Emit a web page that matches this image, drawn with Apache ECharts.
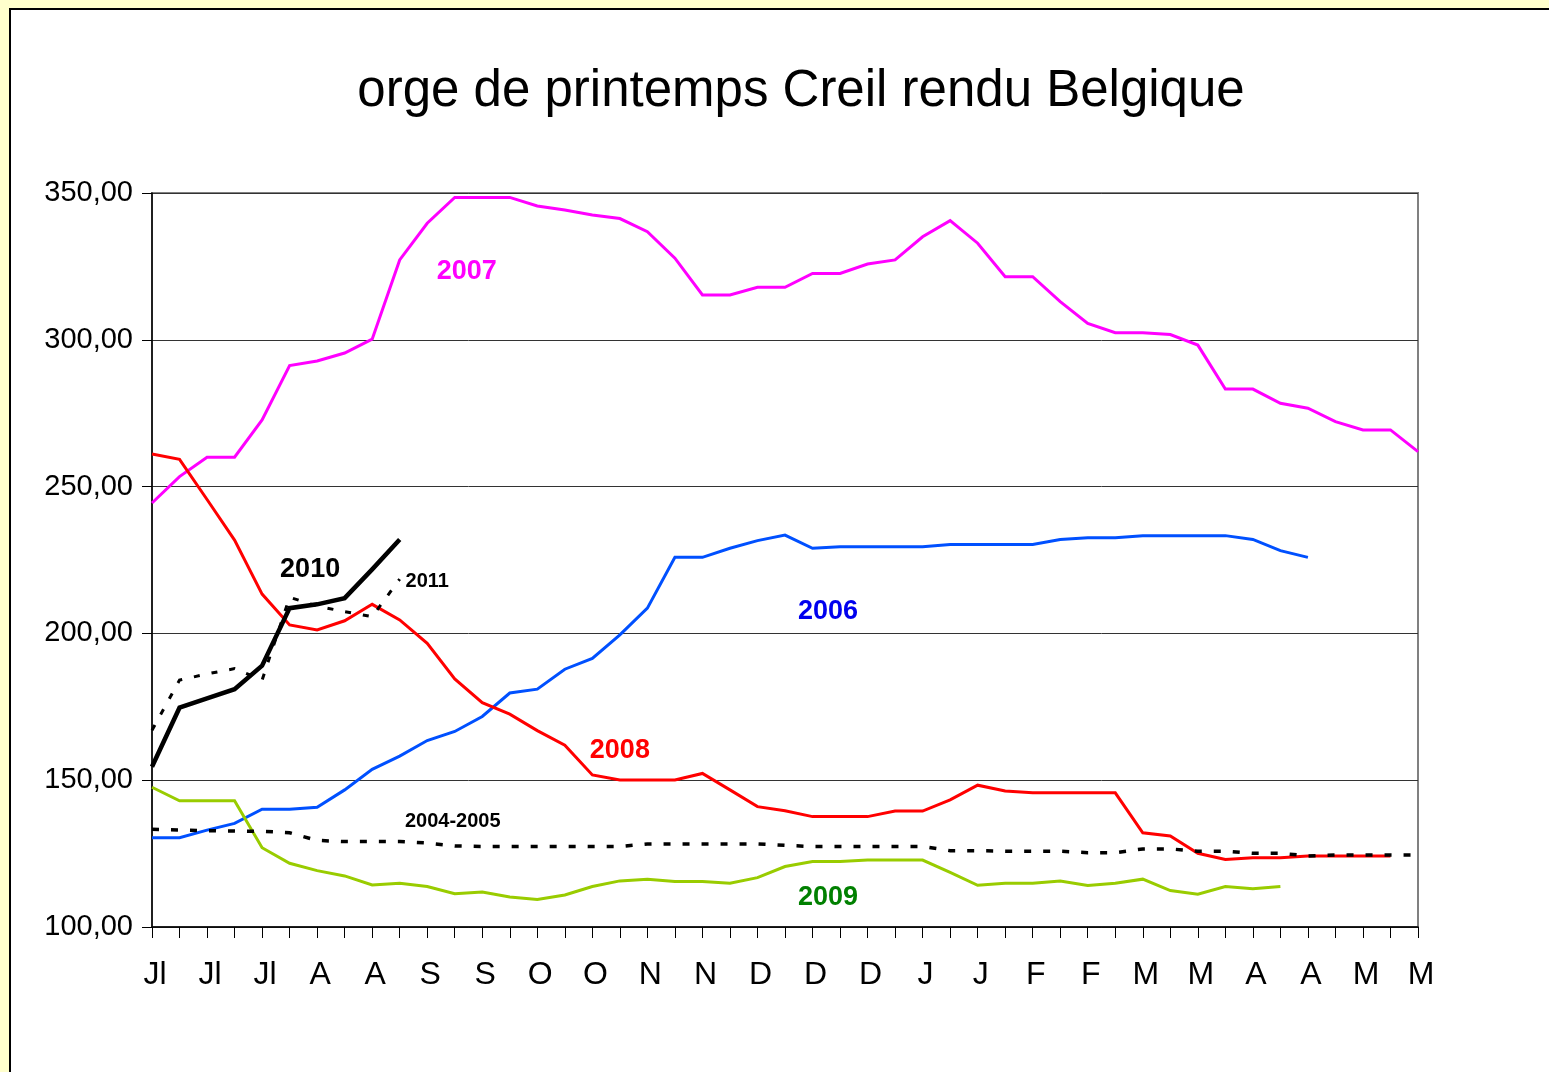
<!DOCTYPE html>
<html>
<head>
<meta charset="utf-8">
<script src="https://cdn.jsdelivr.net/npm/echarts@6/dist/echarts.min.js"></script>
<style>
html,body{margin:0;padding:0;background:#FFFFCC;}
#chart{width:1549px;height:1072px;}
</style>
</head>
<body>
<div id="chart"></div>
<script>
// Tick labels (every second week is labelled)
const tickLabels = ['Jl','Jl','Jl','A','A','S','S','O','O','N','N','D','D','D','J','J','F','F','M','M','A','A','M','M'];
const nPoints = 47;
const categories = [];
for (let i = 0; i < nPoints; i++) categories.push(i % 2 === 0 ? tickLabels[i / 2] : '');

const yTicks = { min: 100, max: 350, step: 50 };

const s2006 = [130.4,130.4,133,135.3,140.1,140.1,140.8,146.7,153.7,158.2,163.5,166.6,171.7,179.7,181,187.8,191.5,199.5,208.6,225.9,225.9,229,231.6,233.5,229,229.5,229.5,229.5,229.5,230.3,230.3,230.3,230.3,232,232.6,232.6,233.3,233.3,233.3,233.3,232,228.2,225.9];
const s2007 = [244.4,253.4,260,260,272.7,291.2,292.8,295.5,300.2,327.2,339.7,348.5,348.5,348.5,345.6,344.2,342.5,341.3,336.8,327.8,315.3,315.3,317.9,317.9,322.6,322.6,325.8,327.2,335.1,340.6,332.9,321.5,321.5,313,305.6,302.4,302.4,301.8,298.2,283.2,283.2,278.4,276.7,272.1,269.3,269.3,261.9];
const s2008 = [261.1,259.3,245.6,231.8,213.4,202.9,201.2,204.3,209.9,204.6,196.6,184.5,176.4,172.5,166.9,161.9,151.8,150.1,150.1,150.1,152.3,146.7,141,139.6,137.6,137.6,137.6,139.5,139.5,143.3,148.3,146.3,145.7,145.7,145.7,145.7,132.1,131,125.1,123,123.6,123.6,124.2,124.2,124.2,124.2];
const s2009 = [147.6,143,143,143,127,121.7,119.2,117.4,114.3,114.9,113.8,111.3,111.9,110.2,109.4,110.9,113.8,115.7,116.3,115.5,115.5,114.9,116.8,120.6,122.3,122.3,122.8,122.8,122.8,118.6,114.2,114.9,114.9,115.7,114.1,114.9,116.3,112.4,111.2,113.8,113,113.8];
const s0405 = [133.3,133,132.8,132.7,132.6,132.1,129.5,129.1,129.1,129.1,128.6,127.6,127.4,127.4,127.4,127.4,127.4,127.4,128.3,128.3,128.3,128.3,128.3,127.8,127.4,127.4,127.4,127.4,127.4,126,126,125.8,125.8,125.8,125.3,125.3,126.6,126.6,125.8,125.8,125.1,125.1,124.2,124.5,124.5,124.5,124.5];
const s2010 = [154.6,174.7,177.9,181,189,208.6,209.9,212,221.8,232];
const s2011 = [167,184.1,186.2,188,184.1,212.3,209.3,207.4,205.7,218.5];

// Series annotation labels: [text, category index, value, x-offset px, font size, color]
const seriesLabels = {
  '2006': ['2006', 25, 207.6, -12, 27, '#0000EE'],
  '2007': ['2007', 11, 323.1, 12, 27, '#FF00FF'],
  '2008': ['2008', 17, 160.0, 0, 27, '#FF0000'],
  '2009': ['2009', 25, 110.2, -12, 27, '#008000'],
  '2004-2005': ['2004-2005', 11, 135.8, -2, 20, '#000000'],
  '2010': ['2010', 6, 221.9, -7, 27, '#000000'],
  '2011': ['2011', 10, 217.8, 0, 20, '#000000']
};

function mp(key) {
  const l = seriesLabels[key];
  return {
    silent: true,
    symbol: 'circle',
    symbolSize: 1,
    itemStyle: { color: 'rgba(0,0,0,0)' },
    label: {
      show: true, position: 'inside', formatter: l[0], offset: [l[3], 0],
      fontFamily: 'Liberation Sans, Arial, sans-serif', fontWeight: 'bold',
      fontSize: l[4], color: l[5]
    },
    data: [{ coord: [l[1], l[2]] }]
  };
}

function line(name, data, color, width, dash, z) {
  return {
    name: name, type: 'line', data: data, symbol: 'none', smooth: false,
    animation: false, z: z,
    lineStyle: { color: color, width: width, type: dash || 'solid', cap: 'butt', join: 'miter' },
    markPoint: mp(name)
  };
}

const chart = echarts.init(document.getElementById('chart'), null, { renderer: 'canvas' });
chart.setOption({
  backgroundColor: '#FFFFCC',
  animation: false,
  graphic: [{
    type: 'rect', z: -100, silent: true,
    shape: { x: 10, y: 9, width: 1600, height: 1100 },
    style: { fill: '#FFFFFF', stroke: '#000000', lineWidth: 2 }
  }],
  title: {
    text: 'orge de printemps Creil rendu Belgique',
    left: 796, top: 61, textAlign: 'center',
    textStyle: { fontFamily: 'Liberation Sans, Arial, sans-serif', fontWeight: 'normal', fontSize: 51, color: '#000' }
  },
  grid: { left: 152, right: 131, top: 193, bottom: 145, show: true, borderColor: '#808080', borderWidth: 2, backgroundColor: 'rgba(0,0,0,0)' },
  xAxis: {
    type: 'category', data: categories, boundaryGap: false,
    axisLine: { lineStyle: { color: '#000', width: 1.5 } },
    axisTick: { show: true, interval: 0, length: 11, lineStyle: { color: '#000', width: 1 } },
    axisLabel: { interval: 0, margin: 32, fontSize: 32, color: '#000', padding: [0, 0, 0, 6], fontFamily: 'Liberation Sans, Arial, sans-serif' },
    splitLine: { show: false }
  },
  yAxis: {
    type: 'value', min: yTicks.min, max: yTicks.max, interval: yTicks.step,
    axisLine: { show: true, lineStyle: { color: '#000', width: 1.5 } },
    axisTick: { show: true, length: 10, lineStyle: { color: '#000', width: 1 } },
    axisLabel: {
      margin: 19, fontSize: 29, color: '#000', fontFamily: 'Liberation Sans, Arial, sans-serif',
      formatter: v => v.toFixed(2).replace('.', ',')
    },
    splitLine: { show: true, lineStyle: { color: '#333', width: 1 } }
  },
  series: [
    line('2006', s2006, '#0050FF', 3, null, 2),
    line('2007', s2007, '#FF00FF', 3, null, 3),
    line('2008', s2008, '#FF0000', 3, null, 4),
    line('2009', s2009, '#99CC00', 3, null, 5),
    line('2004-2005', s0405, '#000000', 3.5, [7, 12], 6),
    line('2010', s2010, '#000000', 4.5, null, 7),
    line('2011', s2011, '#000000', 3, [6, 12], 8)
  ]
});
</script>
</body>
</html>
